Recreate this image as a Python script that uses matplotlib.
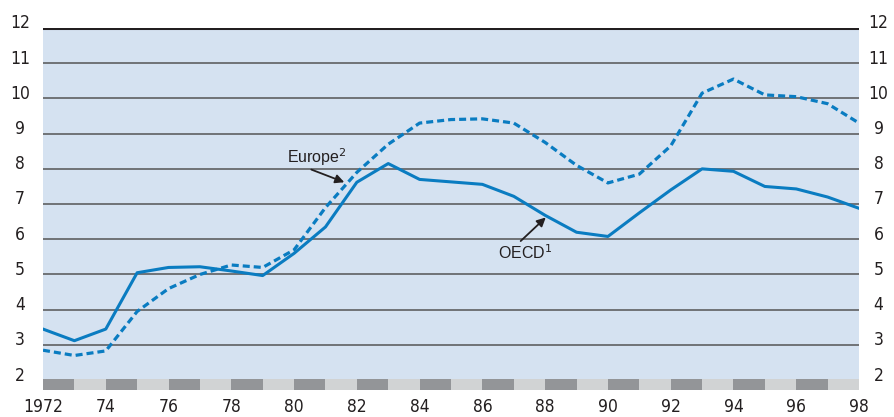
import matplotlib
matplotlib.use("Agg")
import matplotlib.pyplot as plt

years = list(range(1972, 1999))
oecd = [3.45, 3.12, 3.45, 5.05, 5.2, 5.22, 5.1, 4.97, 5.6, 6.35, 7.62, 8.15, 7.7,
        7.63, 7.56, 7.22, 6.68, 6.2, 6.08, 6.75, 7.4, 8.0, 7.93, 7.5, 7.43, 7.2, 6.88]
europe = [2.85, 2.7, 2.83, 3.95, 4.6, 5.0, 5.27, 5.2, 5.7, 6.9, 7.9, 8.7, 9.3,
          9.4, 9.42, 9.3, 8.75, 8.1, 7.6, 7.85, 8.65, 10.15, 10.55, 10.1, 10.05, 9.85, 9.3]
yticks = list(range(2, 13))
xtick_years = list(range(1972, 1999, 2))
xtick_labels = ["1972"] + [f"{y % 100:02d}" for y in xtick_years[1:]]

blue = "#0a7cc1"
bg = "#d5e2f1"
dark = "#939598"
light = "#d1d3d4"
ink = "#231f20"

fig = plt.figure(figsize=(8.94, 4.17), dpi=100)
ax = fig.add_axes([43/894, 1-390/417, (859-43)/894, (390-28)/417])
ymin = 1.72
strip_top = 2.04
ax.set_xlim(1972, 1998)
ax.set_ylim(ymin, 12)

ax.axhspan(strip_top, 12, color=bg, zorder=0, lw=0)
for i, y in enumerate(years[:-1]):
    ax.axhspan(ymin, strip_top, xmin=(y-1972)/26, xmax=(y+1-1972)/26,
               color=dark if i % 2 == 0 else light, lw=0, zorder=1)
for v in range(3, 12):
    ax.axhline(v, color="#5f6062", lw=1.2, zorder=2)
ax.axhline(12, color=ink, lw=2.2, zorder=2)

ax.plot(years, oecd, color=blue, lw=2.2, zorder=3)
ax.plot(years, europe, color=blue, lw=2.3, ls=(0, (2.2, 1.25)), zorder=3)

for s in ax.spines.values():
    s.set_visible(False)
ax.set_xticks([])
ax.set_yticks([])

tick_font = dict(family=["DejaVu Sans"], fontstretch="condensed", fontsize=12.5, color=ink)
for v in yticks:
    ax.text(-0.028, v + 0.13, str(v), transform=ax.get_yaxis_transform(), ha="center", va="center", **tick_font)
    ax.text(1.024, v + 0.13, str(v), transform=ax.get_yaxis_transform(), ha="center", va="center", **tick_font)
for y, lab in zip(xtick_years, xtick_labels):
    ax.text(y, -0.047, lab, transform=ax.get_xaxis_transform(), ha="center", va="center", **tick_font)

ann_font = dict(family=["Liberation Sans", "DejaVu Sans"], fontsize=11.5, color=ink)
ax.text(1981.68, 8.33, "Europe$^2$", ha="right", va="center", **ann_font)
ax.annotate("", xy=(1981.6, 7.62), xytext=(1980.55, 7.98),
            arrowprops=dict(arrowstyle="-|>", color=ink, lw=1.3, shrinkA=0, shrinkB=0,
                            mutation_scale=13))
ax.text(1987.35, 5.61, "OECD$^1$", ha="center", va="center", **ann_font)
ax.annotate("", xy=(1988.02, 6.62), xytext=(1987.22, 5.95),
            arrowprops=dict(arrowstyle="-|>", color=ink, lw=1.3, shrinkA=0, shrinkB=0,
                            mutation_scale=13))

fig.savefig("out.png", dpi=100)
